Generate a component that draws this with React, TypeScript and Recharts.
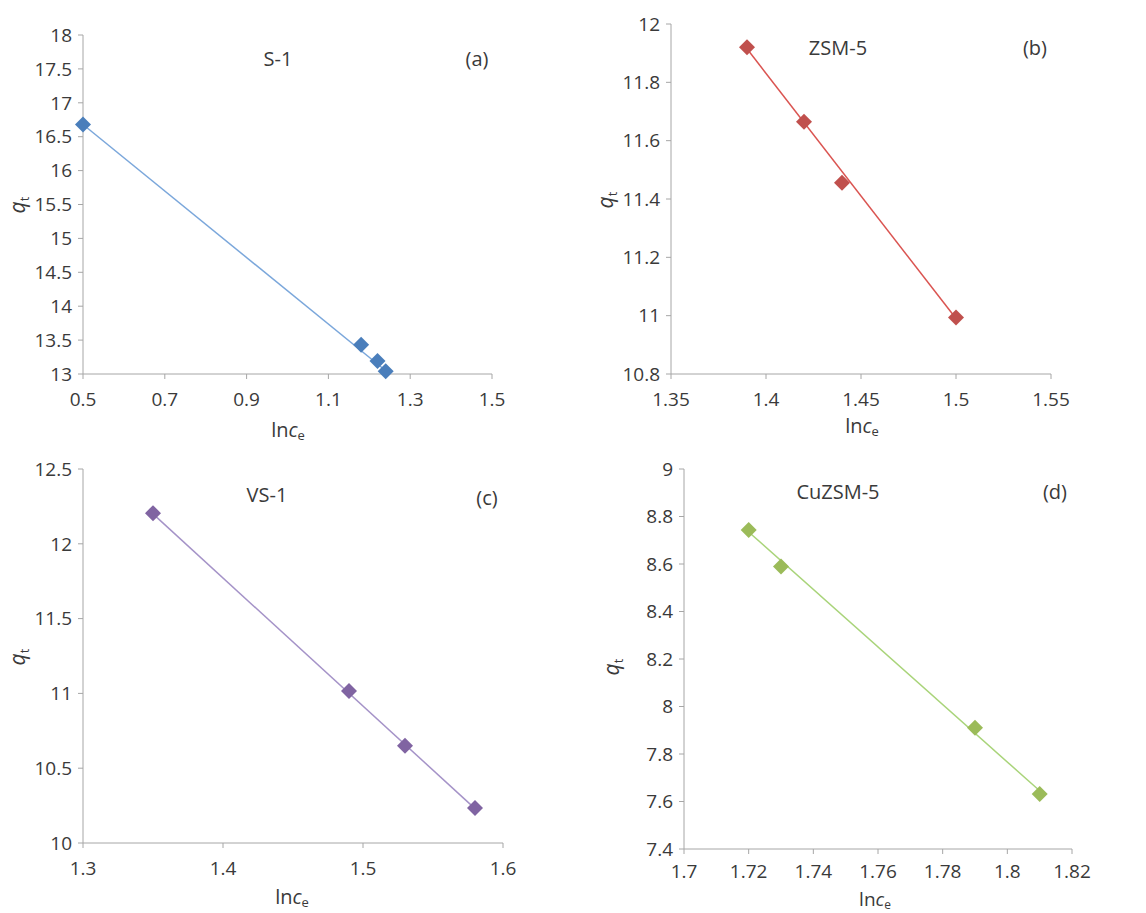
import { ScatterChart, Scatter, XAxis, YAxis } from "recharts"

// S-1
const s1X = [0.5, 1.18, 1.22, 1.24]
const s1Y = [16.68, 13.43, 13.19, 13.04]
const s1TrendX = [0.5, 1.25]
const s1TrendY = [16.68, 13.0]
const s1XTicks = [0.5, 0.7, 0.9, 1.1, 1.3, 1.5]
const s1YTicks = [13, 13.5, 14, 14.5, 15, 15.5, 16, 16.5, 17, 17.5, 18]

// ZSM-5
const zsmX = [1.39, 1.42, 1.44, 1.5]
const zsmY = [11.92, 11.665, 11.456, 10.994]
const zsmTrendX = [1.39, 1.5]
const zsmTrendY = [11.915, 10.99]
const zsmXTicks = [1.35, 1.4, 1.45, 1.5, 1.55]
const zsmYTicks = [10.8, 11, 11.2, 11.4, 11.6, 11.8, 12]

// VS-1
const vsX = [1.35, 1.49, 1.53, 1.58]
const vsY = [12.205, 11.016, 10.65, 10.234]
const vsTrendX = [1.35, 1.58]
const vsTrendY = [12.2, 10.23]
const vsXTicks = [1.3, 1.4, 1.5, 1.6]
const vsYTicks = [10, 10.5, 11, 11.5, 12, 12.5]

// CuZSM-5
const cuX = [1.72, 1.73, 1.79, 1.81]
const cuY = [8.743, 8.59, 7.911, 7.632]
const cuTrendX = [1.72, 1.81]
const cuTrendY = [8.735, 7.645]
const cuXTicks = [1.7, 1.72, 1.74, 1.76, 1.78, 1.8, 1.82]
const cuYTicks = [7.4, 7.6, 7.8, 8, 8.2, 8.4, 8.6, 8.8, 9]

const toPoints = (xs: number[], ys: number[]) => xs.map((x, i) => ({ x, y: ys[i] }))

const FONT = '"Open Sans", "Noto Sans", sans-serif'
const TEXT = "#3a3a3a"
const AXIS = "#a6a6a6"
const Y_W = 60
const X_H = 30

const diamond = (color: string) => (props: any) => {
  const { cx, cy } = props
  if (cx == null || cy == null) return <g />
  const h = 8
  return <polygon points={`${cx},${cy - h} ${cx + h},${cy} ${cx},${cy + h} ${cx - h},${cy}`} fill={color} />
}

const noDot = () => <g />

type PanelProps = {
  box: { left: number; top: number; width: number; height: number }
  plot: { x0: number; x1: number; y0: number; y1: number }
  xs: number[]
  ys: number[]
  tx: number[]
  ty: number[]
  xTicks: number[]
  yTicks: number[]
  marker: string
  line: string
  xTickGap?: number
}

function Panel({ box, plot, xs, ys, tx, ty, xTicks, yTicks, marker, line, xTickGap = 14 }: PanelProps) {
  const margin = {
    left: plot.x0 - box.left - Y_W,
    right: box.left + box.width - plot.x1,
    top: plot.y0 - box.top,
    bottom: box.top + box.height - plot.y1 - X_H,
  }
  const tick = { fill: TEXT, fontSize: 19, fontFamily: FONT }
  return (
    <div style={{ position: "absolute", left: box.left, top: box.top }}>
      <ScatterChart width={box.width} height={box.height} margin={margin}>
        <XAxis
          type="number"
          dataKey="x"
          domain={[xTicks[0], xTicks[xTicks.length - 1]]}
          ticks={xTicks}
          interval={0}
          height={X_H}
          tick={tick}
          tickSize={5}
          tickMargin={xTickGap}
          stroke={AXIS}
        />
        <YAxis
          type="number"
          dataKey="y"
          domain={[yTicks[0], yTicks[yTicks.length - 1]]}
          ticks={yTicks}
          interval={0}
          width={Y_W}
          tick={tick}
          tickSize={5}
          tickMargin={6}
          stroke={AXIS}
        />
        <Scatter
          data={toPoints(tx, ty)}
          line={{ stroke: line, strokeWidth: 1.5 }}
          shape={noDot}
          isAnimationActive={false}
        />
        <Scatter data={toPoints(xs, ys)} shape={diamond(marker)} isAnimationActive={false} />
      </ScatterChart>
    </div>
  )
}

function YLabel({ x, y }: { x: number; y: number }) {
  return (
    <text x={x} y={y} transform={`rotate(-90, ${x}, ${y})`} textAnchor="middle" fontSize={21} fill={TEXT} fontFamily={FONT}>
      <tspan fontStyle="italic">q</tspan>
      <tspan fontSize={13} dy={4}>t</tspan>
    </text>
  )
}

function XLabel({ x, y, size = 20 }: { x: number; y: number; size?: number }) {
  return (
    <text x={x} y={y} textAnchor="middle" fontSize={size} fill={TEXT} fontFamily={FONT}>
      ln<tspan fontStyle="italic">c</tspan>
      <tspan fontSize={size - 7} dy={3}>e</tspan>
    </text>
  )
}

function Title({ x, y, children }: { x: number; y: number; children: any }) {
  return (
    <text x={x} y={y} textAnchor="middle" fontSize={20} fill={TEXT} fontFamily={FONT}>
      {children}
    </text>
  )
}

export default function App() {
  return (
    <div style={{ position: "absolute", left: 0, top: 0, width: 1146, height: 913, background: "#fff", overflow: "hidden" }}>
      <Panel
        box={{ left: 0, top: 0, width: 573, height: 456 }}
        plot={{ x0: 83, x1: 492, y0: 35, y1: 374 }}
        xs={s1X} ys={s1Y} tx={s1TrendX} ty={s1TrendY}
        xTicks={s1XTicks} yTicks={s1YTicks}
        marker="#4A7EBB" line="#7BA7DB"
      />
      <Panel
        box={{ left: 573, top: 0, width: 573, height: 456 }}
        plot={{ x0: 671, x1: 1051, y0: 24, y1: 374 }}
        xs={zsmX} ys={zsmY} tx={zsmTrendX} ty={zsmTrendY}
        xTicks={zsmXTicks} yTicks={zsmYTicks}
        marker="#C0504D" line="#DA5451"
      />
      <Panel
        box={{ left: 0, top: 456, width: 573, height: 457 }}
        plot={{ x0: 83, x1: 503, y0: 469, y1: 843 }}
        xs={vsX} ys={vsY} tx={vsTrendX} ty={vsTrendY}
        xTicks={vsXTicks} yTicks={vsYTicks}
        marker="#8064A2" line="#A593C8"
      />
      <Panel
        box={{ left: 573, top: 456, width: 573, height: 457 }}
        plot={{ x0: 684, x1: 1072, y0: 469, y1: 849 }}
        xs={cuX} ys={cuY} tx={cuTrendX} ty={cuTrendY}
        xTicks={cuXTicks} yTicks={cuYTicks}
        marker="#9BBB59" line="#A9D47A"
        xTickGap={11}
      />
      <svg width={1146} height={913} style={{ position: "absolute", left: 0, top: 0, pointerEvents: "none" }}>
        <Title x={278} y={66}>S-1</Title>
        <Title x={477} y={66}>(a)</Title>
        <XLabel x={288} y={437} />
        <YLabel x={25} y={205} />

        <Title x={838} y={55}>ZSM-5</Title>
        <Title x={1035} y={55}>(b)</Title>
        <XLabel x={862} y={433} />
        <YLabel x={613} y={200} />

        <Title x={267} y={502}>VS-1</Title>
        <Title x={487} y={505}>(c)</Title>
        <XLabel x={292} y={904} />
        <YLabel x={25} y={657} />

        <Title x={838} y={499}>CuZSM-5</Title>
        <Title x={1055} y={499}>(d)</Title>
        <XLabel x={875} y={906} size={19} />
        <YLabel x={619} y={667} />
      </svg>
    </div>
  )
}
